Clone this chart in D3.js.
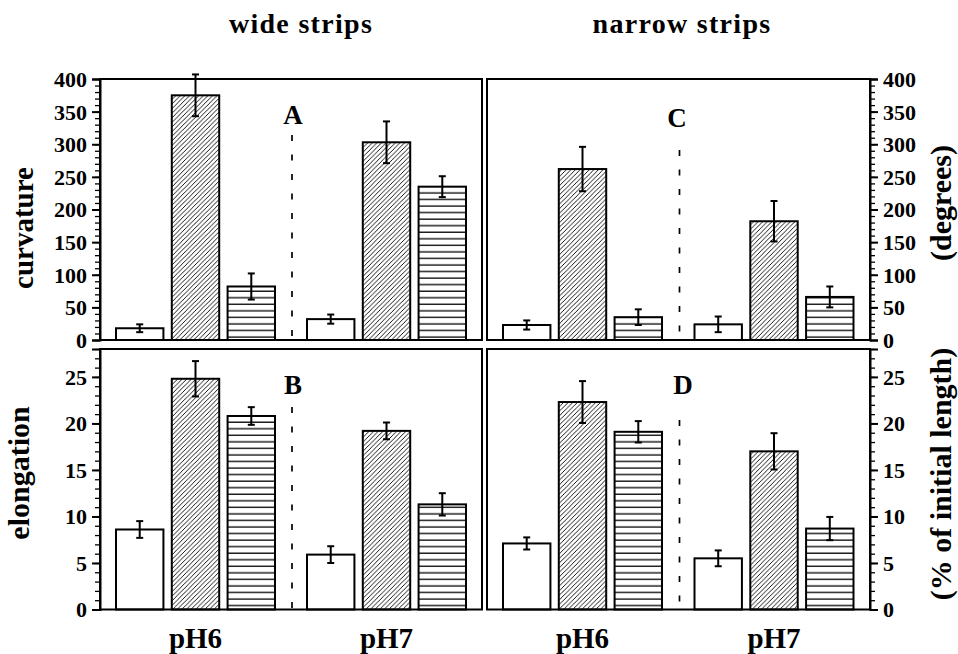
<!DOCTYPE html>
<html><head><meta charset="utf-8">
<script src="https://cdn.jsdelivr.net/npm/d3@7"></script>
<style>
body{margin:0;background:#fff;}
svg{display:block;}
svg text{font-family:"Liberation Serif","Times New Roman",Times,serif !important;font-weight:bold;fill:#000;}
</style></head>
<body>
<svg id="chart" width="958" height="654" font-family="Liberation Serif"></svg>
<script>
// ---- data ----
const groups = ["pH6", "pH7"];
const seriesKeys = ["open", "diagonal", "horizontal"];
const columnTitles = ["wide strips", "narrow strips"];
const panelLetters = ["A", "C", "B", "D"];

const curvatureWide = [18, 375, 82, 32, 303, 235];
const curvatureWideErr = [6, 32, 20, 7, 32, 16];
const curvatureNarrow = [23, 262, 35, 24, 182, 66];
const curvatureNarrowErr = [7, 34, 12, 12, 31, 16];
const elongationWide = [8.6, 24.8, 20.8, 5.9, 19.2, 11.3];
const elongationWideErr = [0.9, 1.9, 0.95, 0.9, 0.9, 1.2];
const elongationNarrow = [7.1, 22.3, 19.1, 5.5, 17.0, 8.7];
const elongationNarrowErr = [0.65, 2.25, 1.15, 0.85, 1.95, 1.25];

const curvatureTicks = [0, 50, 100, 150, 200, 250, 300, 350, 400];
const elongationTicks = [0, 5, 10, 15, 20, 25];

// ---- layout ----
const svg = d3.select("#chart");
const cols = [{x0: 100, x1: 482}, {x0: 487, x1: 870}];
const rows = [{y0: 79, y1: 340, max: 400, ticks: curvatureTicks, minor: 10},
              {y0: 349, y1: 609.5, max: 28, ticks: elongationTicks, minor: 1}];

const defs = svg.append("defs");
const diag = defs.append("pattern").attr("id", "diag").attr("patternUnits", "userSpaceOnUse")
  .attr("width", 4.6).attr("height", 4.6);
diag.append("rect").attr("width", 4.6).attr("height", 4.6).attr("fill", "#fff");
diag.append("path").attr("d", "M-1,1 L1,-1 M0,4.6 L4.6,0 M3.6,5.6 L5.6,3.6")
  .attr("stroke", "#000").attr("stroke-width", 0.9);
const hor = defs.append("pattern").attr("id", "hor").attr("patternUnits", "userSpaceOnUse")
  .attr("width", 10).attr("height", 6.55);
hor.append("rect").attr("width", 10).attr("height", 6.55).attr("fill", "#fff");
hor.append("line").attr("x1", 0).attr("x2", 10).attr("y1", 3).attr("y2", 3)
  .attr("stroke", "#000").attr("stroke-width", 1.3);
const fills = {open: "#fff", diagonal: "url(#diag)", horizontal: "url(#hor)"};

const panels = [
  {row: 0, col: 0, vals: curvatureWide, errs: curvatureWideErr, letter: panelLetters[0], dashTop: 135, lx: 293, ly: 124},
  {row: 0, col: 1, vals: curvatureNarrow, errs: curvatureNarrowErr, letter: panelLetters[1], dashTop: 150, lx: 677, ly: 127},
  {row: 1, col: 0, vals: elongationWide, errs: elongationWideErr, letter: panelLetters[2], dashTop: 407, lx: 293, ly: 394},
  {row: 1, col: 1, vals: elongationNarrow, errs: elongationNarrowErr, letter: panelLetters[3], dashTop: 420, lx: 683, ly: 394}
];

const SERIF = '"Liberation Serif","Times New Roman",serif';

panels.forEach(p => {
  const c = cols[p.col], r = rows[p.row];
  const y = d3.scaleLinear().domain([0, r.max]).range([r.y1, r.y0]);
  const xOuter = d3.scaleBand().domain(groups).range([c.x0, c.x1]);
  const xInner = d3.scaleBand().domain(seriesKeys).range([16, 175]).paddingInner(0.15);
  const g = svg.append("g");

  const data = [];
  groups.forEach((grp, gi) => seriesKeys.forEach((s, si) => {
    data.push({grp, s, v: p.vals[gi * 3 + si], e: p.errs[gi * 3 + si]});
  }));

  // bars
  g.selectAll("rect.bar").data(data).join("rect").attr("class", "bar")
    .attr("x", d => xOuter(d.grp) + xInner(d.s))
    .attr("width", xInner.bandwidth())
    .attr("y", d => y(d.v))
    .attr("height", d => y(0) - y(d.v))
    .attr("fill", d => fills[d.s])
    .attr("stroke", "#000").attr("stroke-width", 2);

  // error bars
  const cx = d => xOuter(d.grp) + xInner(d.s) + xInner.bandwidth() / 2;
  const eb = g.selectAll("g.err").data(data).join("g").attr("class", "err")
    .attr("stroke", "#000").attr("stroke-width", 2);
  eb.append("line").attr("x1", cx).attr("x2", cx)
    .attr("y1", d => y(d.v + d.e)).attr("y2", d => y(d.v - d.e));
  eb.append("line").attr("x1", d => cx(d) - 3.5).attr("x2", d => cx(d) + 3.5)
    .attr("y1", d => y(d.v + d.e)).attr("y2", d => y(d.v + d.e));
  eb.append("line").attr("x1", d => cx(d) - 3.5).attr("x2", d => cx(d) + 3.5)
    .attr("y1", d => y(d.v - d.e)).attr("y2", d => y(d.v - d.e));

  // dashed divider
  const mid = (c.x0 + c.x1) / 2 + 1;
  g.append("line").attr("x1", mid).attr("x2", mid)
    .attr("y1", p.dashTop).attr("y2", r.y1)
    .attr("stroke", "#000").attr("stroke-width", 1.7).attr("stroke-dasharray", "6,13.5");

  // letter
  g.append("text").attr("x", p.lx).attr("y", p.ly).attr("text-anchor", "middle")
    .style("font-family", SERIF).style("font-size", "27px").text(p.letter);

  // frame
  g.append("rect").attr("x", c.x0).attr("y", r.y0)
    .attr("width", c.x1 - c.x0).attr("height", r.y1 - r.y0)
    .attr("fill", "none").attr("stroke", "#000").attr("stroke-width", 2);

  // axes: left for col 0, right for col 1
  const isLeft = p.col === 0;
  const ax = isLeft ? d3.axisLeft : d3.axisRight;
  const axX = isLeft ? c.x0 : c.x1;
  const minorVals = d3.range(0, r.max + 0.001, r.minor);
  const gm = svg.append("g").attr("transform", `translate(${axX},0)`)
    .call(ax(y).tickValues(minorVals).tickSize(5).tickFormat(""));
  gm.select(".domain").remove();
  gm.selectAll("line").attr("stroke-width", 1.3);
  const ga = svg.append("g").attr("transform", `translate(${axX},0)`)
    .call(ax(y).tickValues(r.ticks).tickSize(8).tickPadding(5).tickFormat(d3.format("d")));
  ga.attr("font-family", "Liberation Serif");
  ga.select(".domain").attr("stroke-width", 2);
  ga.selectAll("line").attr("stroke-width", 2);
  ga.selectAll("text").style("font-size", "22px").attr("dy", "0.34em")
    .style("font-family", SERIF).style("font-weight", "bold");

  // group labels at bottom
  if (p.row === 1) {
    svg.append("g").selectAll("text").data(groups).join("text")
      .attr("x", d => xOuter(d) + 95.5).attr("y", 648)
      .attr("text-anchor", "middle").style("font-family", SERIF).style("font-size", "29px").text(d => d);
  }
});

// column titles
svg.selectAll("text.title").data(columnTitles).join("text").attr("class", "title")
  .attr("x", (d, i) => [301, 682][i]).attr("y", 33).attr("text-anchor", "middle")
  .style("font-family", SERIF).style("font-size", "28px").style("letter-spacing", "1.3px").text(d => d);

// axis titles
function vtext(x, yc, t, size) {
  svg.append("text").attr("transform", `translate(${x},${yc}) rotate(-90)`)
    .attr("text-anchor", "middle").style("font-family", SERIF).style("font-size", size + "px").text(t);
}
vtext(33, 228, "curvature", 29);
vtext(29, 473, "elongation", 30);
vtext(951, 203, "(degrees)", 30);
vtext(951, 474, "(% of initial length)", 30);
</script>
</body></html>
